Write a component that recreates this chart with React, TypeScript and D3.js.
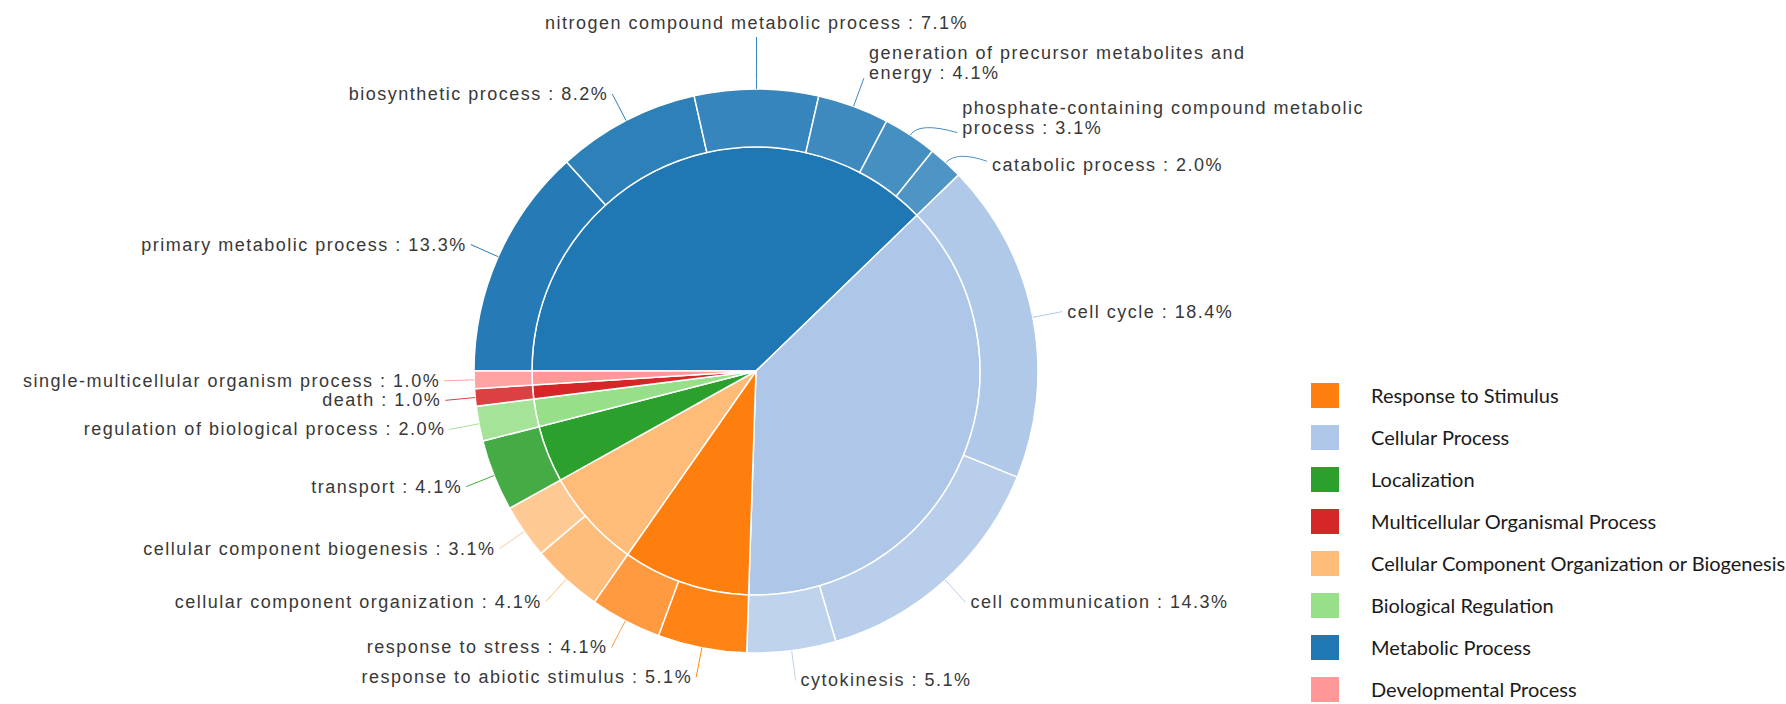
import React from "react";
import * as d3 from "d3";

// GO biological-process categories (inner ring), in drawing order
const groupNames = [
  "Metabolic Process",
  "Cellular Process",
  "Response to Stimulus",
  "Cellular Component Organization or Biogenesis",
  "Localization",
  "Biological Regulation",
  "Multicellular Organismal Process",
  "Developmental Process",
];

const groupColors = [
  "#1f77b4",
  "#aec7e8",
  "#ff7f0e",
  "#ffbb78",
  "#2ca02c",
  "#98df8a",
  "#d62728",
  "#ff9896",
];

// Child terms (outer ring)
const termNames = [
  "primary metabolic process",
  "biosynthetic process",
  "nitrogen compound metabolic process",
  "generation of precursor metabolites and energy",
  "phosphate-containing compound metabolic process",
  "catabolic process",
  "cell cycle",
  "cell communication",
  "cytokinesis",
  "response to abiotic stimulus",
  "response to stress",
  "cellular component organization",
  "cellular component biogenesis",
  "transport",
  "regulation of biological process",
  "death",
  "single-multicellular organism process",
];

const termGroups = [0, 0, 0, 0, 0, 0, 1, 1, 1, 2, 2, 3, 3, 4, 5, 6, 7];

const termShares = [13.3, 8.2, 7.1, 4.1, 3.1, 2.0, 18.4, 14.3, 5.1, 5.1, 4.1, 4.1, 3.1, 4.1, 2.0, 1.0, 1.0];

const legendOrder = [
  "Response to Stimulus",
  "Cellular Process",
  "Localization",
  "Multicellular Organismal Process",
  "Cellular Component Organization or Biogenesis",
  "Biological Regulation",
  "Metabolic Process",
  "Developmental Process",
];

// layout
const W = 1786;
const H = 704;
const CX = 756;
const CY = 371;
const R_OUT = 282;
const R_IN = 224;
const LABEL_GAP = 30;
const LABEL_FONT = 18;
const LABEL_LS = 1.5;
const LABEL_FAMILY = '"Liberation Sans", Arial, sans-serif';
const WRAP_WIDTH = 440;
const LINE_H = 20;

// labels moved off their slice's mid-angle to keep clear of neighbours
const labelTweaks: Record<string, { dAngle?: number; dRadius?: number; dy?: number }> = {
  "nitrogen compound metabolic process": { dRadius: 22 },
  "phosphate-containing compound metabolic process": { dAngle: 7 },
  "catabolic process": { dAngle: 5.4, dy: 4 },
};

let measureCtx: CanvasRenderingContext2D | null = null;
function textWidth(s: string): number {
  if (!measureCtx) {
    measureCtx = document.createElement("canvas").getContext("2d");
  }
  if (!measureCtx) return s.length * LABEL_FONT * 0.5;
  measureCtx.font = `${LABEL_FONT}px ${LABEL_FAMILY}`;
  return measureCtx.measureText(s).width + LABEL_LS * s.length;
}

function wrap(text: string, maxW: number): string[] {
  if (textWidth(text) <= maxW) return [text];
  const words = text.split(" ");
  const lines: string[] = [];
  let cur = "";
  for (const w of words) {
    const next = cur ? cur + " " + w : w;
    if (cur && textWidth(next) > maxW) {
      lines.push(cur);
      cur = w;
    } else {
      cur = next;
    }
  }
  if (cur) lines.push(cur);
  return lines;
}

const polar = (a: number, r: number): [number, number] => [CX + r * Math.sin(a), CY - r * Math.cos(a)];

export default function App() {
  const groupTotals = groupNames.map((_, g) =>
    d3.sum(termShares.filter((_, i) => termGroups[i] === g))
  );

  const pie = d3
    .pie<number>()
    .sort(null)
    .startAngle(-Math.PI / 2)
    .endAngle(1.5 * Math.PI)
    .value((d) => d);

  const groupArcs = pie(groupTotals);
  const termArcs = pie(termShares);

  const innerArc = d3.arc<d3.PieArcDatum<number>>().innerRadius(0).outerRadius(R_IN);
  const outerArc = d3.arc<d3.PieArcDatum<number>>().innerRadius(R_IN).outerRadius(R_OUT);

  const color = d3.scaleOrdinal<string, string>().domain(groupNames).range(groupColors);

  // child colour: parent tint lightened by position within its group
  const termColors = termNames.map((_, i) => {
    const g = termGroups[i];
    const siblings = termGroups.map((x, j) => (x === g ? j : -1)).filter((j) => j >= 0);
    const k = siblings.indexOf(i);
    const n = siblings.length;
    const t = n === 1 ? 0.12 : 0.03 + (0.18 * k) / (n - 1);
    return d3.interpolateRgb(color(groupNames[g]), "#ffffff")(t);
  });

  const labels = termArcs.map((a, i) => {
    const name = termNames[i];
    const tw = labelTweaks[name] || {};
    const mid = (a.startAngle + a.endAngle) / 2;
    const la = mid + ((tw.dAngle || 0) * Math.PI) / 180;
    const lr = R_OUT + LABEL_GAP + (tw.dRadius || 0);
    const p0 = polar(mid, R_OUT);
    const p1 = polar(mid, R_OUT + 16);
    const p2 = polar(la, lr);
    const s = Math.sin(la);
    const anchor = Math.abs(s) < 0.03 ? "middle" : s > 0 ? "start" : "end";
    const text = `${name} : ${termShares[i].toFixed(1)}%`;
    const lines = wrap(text, WRAP_WIDTH);
    let x = p2[0];
    let baseLast = p2[1] + 6;
    if (anchor === "start") x += 5;
    if (anchor === "end") x -= 4;
    if (anchor === "middle") baseLast = p2[1] - 8;
    else if (lines.length > 1) baseLast = p2[1] + 1;
    baseLast += tw.dy || 0;
    const path = `M${p0[0]},${p0[1]}Q${p1[0]},${p1[1]} ${p2[0]},${p2[1]}`;
    return { name, lines, x, baseLast, anchor, path, color: termColors[i] };
  });

  const legendX = 1311;
  const legendY = 383;
  const legendStep = 42;

  return (
    <svg
      width={W}
      height={H}
      viewBox={`0 0 ${W} ${H}`}
      style={{ position: "absolute", left: 0, top: 0, background: "#ffffff" }}
    >
      <rect x={0} y={0} width={W} height={H} fill="#ffffff" />

      <g>
        {groupArcs.map((a, i) => (
          <path
            key={`g-${i}`}
            d={innerArc(a) || ""}
            transform={`translate(${CX},${CY})`}
            fill={color(groupNames[i])}
            stroke="#ffffff"
            strokeWidth={1.5}
          />
        ))}
        {termArcs.map((a, i) => (
          <path
            key={`t-${i}`}
            d={outerArc(a) || ""}
            transform={`translate(${CX},${CY})`}
            fill={termColors[i]}
            stroke="#ffffff"
            strokeWidth={1.5}
          />
        ))}
      </g>

      <g>
        {labels.map((l, i) => (
          <g key={`l-${i}`}>
            <path d={l.path} fill="none" stroke={l.color} strokeWidth={1} />
            <text
              x={l.x}
              textAnchor={l.anchor}
              fontFamily={LABEL_FAMILY}
              fontSize={LABEL_FONT}
              letterSpacing={LABEL_LS}
              fill="#383838"
            >
              {l.lines.map((ln, k) => (
                <tspan key={k} x={l.x} y={l.baseLast - (l.lines.length - 1 - k) * LINE_H}>
                  {ln}
                </tspan>
              ))}
            </text>
          </g>
        ))}
      </g>

      <g>
        {legendOrder.map((name, i) => (
          <g key={`lg-${i}`} transform={`translate(${legendX},${legendY + i * legendStep})`}>
            <rect width={28} height={25} fill={color(name)} />
            <text x={60} y={20} fontFamily="Lato, sans-serif" fontSize={20} fill="#1a1a1a">
              {name}
            </text>
          </g>
        ))}
      </g>
    </svg>
  );
}
